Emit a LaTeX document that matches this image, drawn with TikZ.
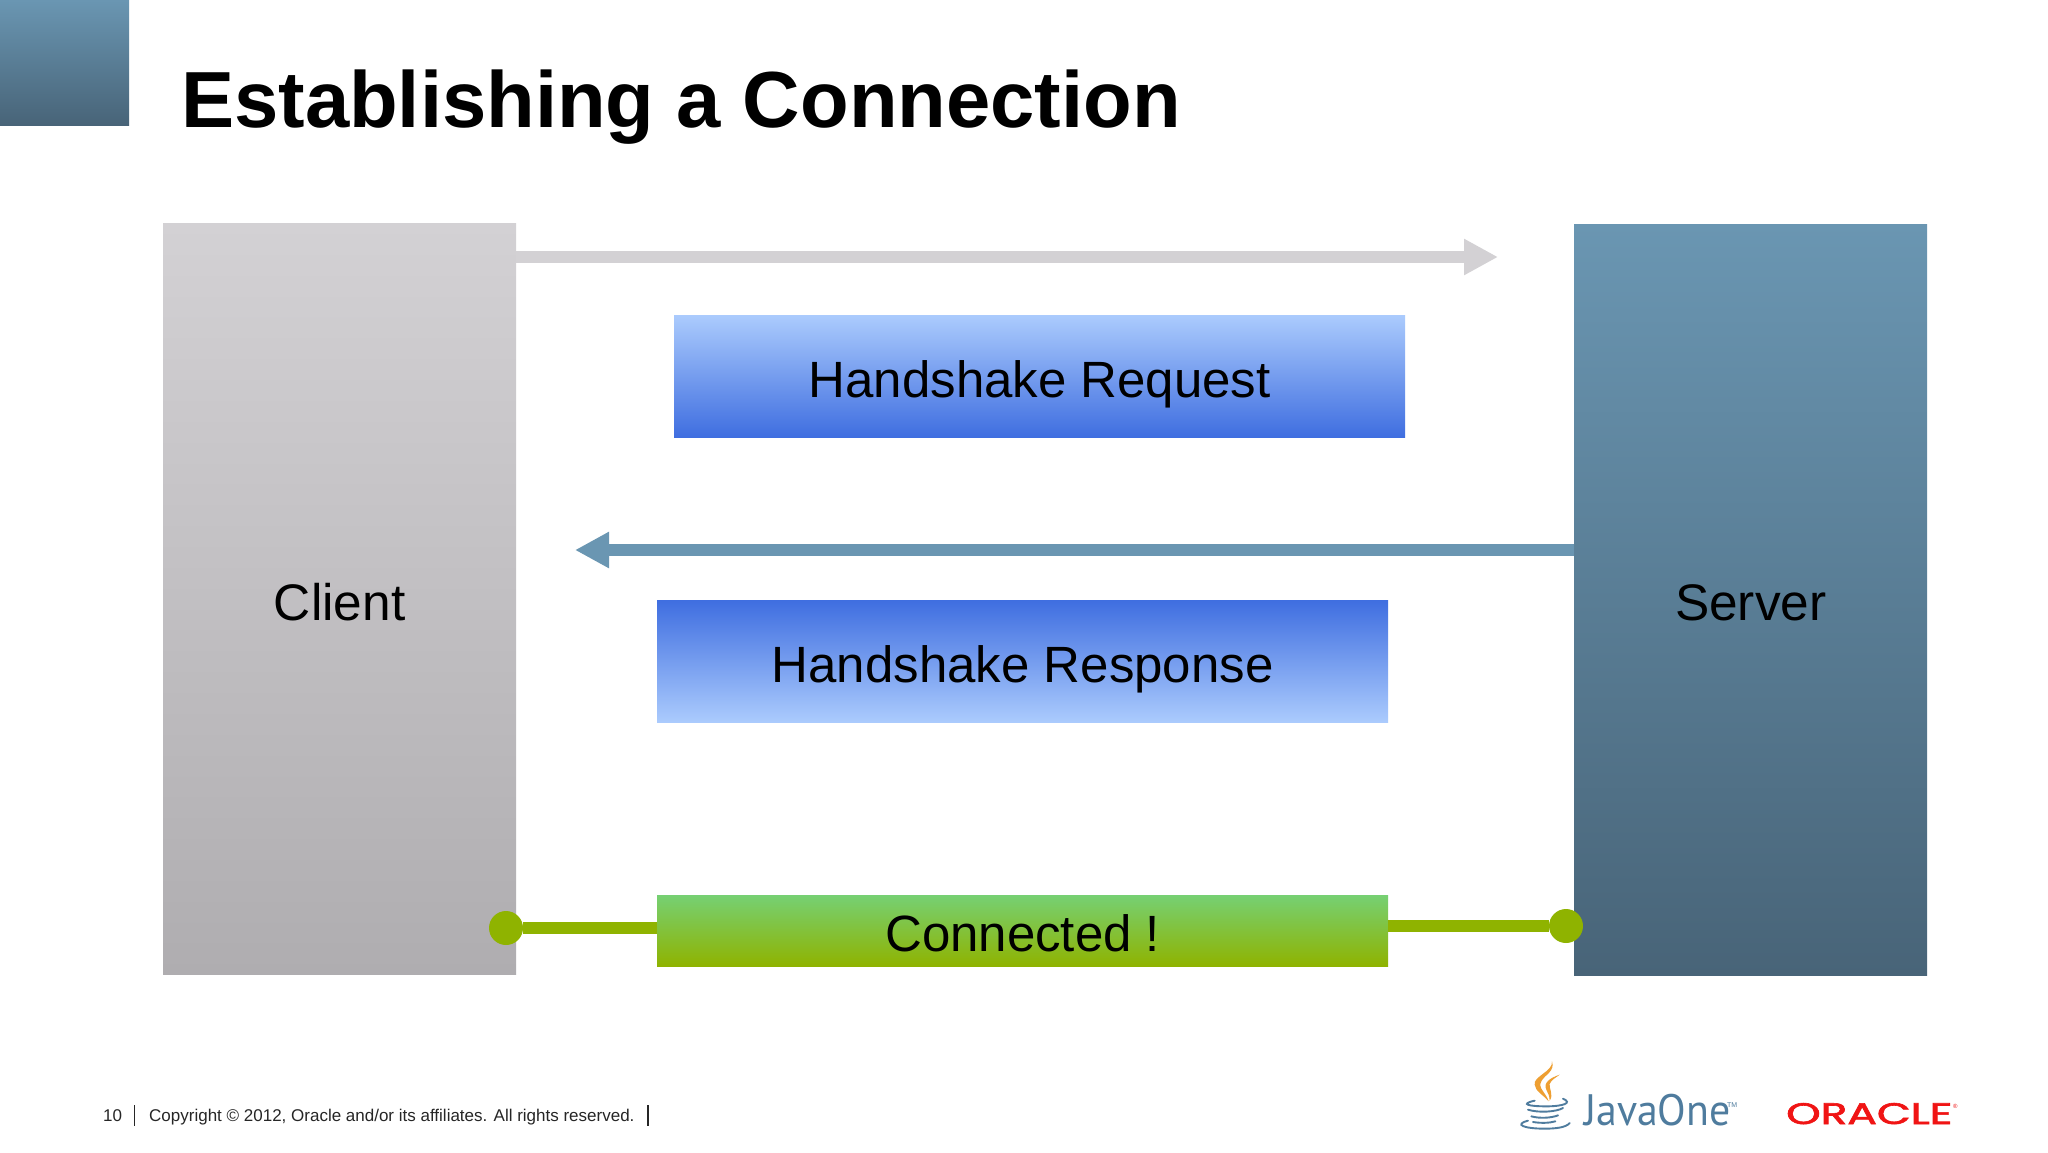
\documentclass[tikz,border=0pt]{standalone}
\usepackage{fontspec}
\usepackage{graphicx}
\setmainfont{Liberation Sans}
\newfontfamily\javaf{PT Sans}
\newfontfamily\oraf[FakeBold=2]{Poppins}
\usetikzlibrary{arrows.meta}
\definecolor{arrgrey}{HTML}{D3D1D4}
\definecolor{arrblue}{HTML}{6A96B2}
\definecolor{dotgreen}{HTML}{8FB300}
\definecolor{conngreen}{HTML}{76D073}
\definecolor{javablue}{HTML}{4F7C9E}
\definecolor{javaorange}{HTML}{EE9F32}
\definecolor{orared}{HTML}{F01414}
\definecolor{lightblue}{HTML}{ABCBFD}
\definecolor{deepblue}{HTML}{3F6EE0}
\definecolor{clientbot}{HTML}{AFADB0}
\definecolor{serverbot}{HTML}{486478}
\newcommand{\lowered}[2]{\raisebox{-#1pt}[0pt][0pt]{#2}}
\tikzset{
  x=1pt,y=-1pt,
  panel/.style={inner sep=0pt,minimum width=353pt,font=\fontsize{51.4}{52}\selectfont,text=black},
  msgbox/.style={inner sep=0pt,font=\fontsize{51}{52}\selectfont,text=black},
  bluegrad/.style={msgbox,minimum width=731pt,minimum height=122pt},
  dotnode/.style={circle,inner sep=0pt,minimum size=34pt,fill=dotgreen},
  fatarrow/.style={line width=12pt,-{Triangle[length=34pt,width=34pt]}},
  greenline/.style={line width=11.5pt,draw=dotgreen},
  footer/.style={inner sep=0pt,anchor=base west,font=\fontsize{17}{17}\selectfont,text=black!85},
  footbar/.style={line width=1.6pt,draw=black!85},
  cupline/.style={draw=javablue,line width=1.9pt,line cap=round},
  flame/.style={fill=javaorange,draw=none}
}
\begin{document}
\begin{tikzpicture}
\useasboundingbox[fill=white] (0,0) rectangle (2048,1152);
% corner tab
\path[top color=arrblue,bottom color=serverbot] (0,0) rectangle (129,125);
% title
\node[inner sep=0pt,anchor=base west,font=\bfseries\fontsize{79.6}{80}\selectfont] (title) at (181,127) {Establishing a Connection};
% panels
\node[panel,minimum height=751pt,anchor=north west,top color=arrgrey,bottom color=clientbot] (client) at (163,223) {\lowered{21.5}{Client}};
\node[panel,minimum height=751pt,anchor=north west,top color=arrblue,bottom color=serverbot] (server) at (1574,224) {\lowered{21}{Server}};
% message boxes
\node[bluegrad,anchor=north west,top color=lightblue,bottom color=deepblue] (req) at (674,315) {\lowered{21}{Handshake Request}};
\node[bluegrad,anchor=north west,bottom color=lightblue,top color=deepblue] (resp) at (657,600) {\lowered{21}{Handshake Response}};
\node[msgbox,minimum width=731pt,minimum height=71pt,anchor=north west,top color=conngreen,bottom color=dotgreen] (conn) at (657,895) {\lowered{21}{Connected !}};
% arrows
\coordinate (reqend) at (1498,257);
\coordinate (respend) at (575,550);
\draw[fatarrow,draw=arrgrey,fill=arrgrey] (client.east |- reqend) -- (reqend);
\draw[fatarrow,draw=arrblue,fill=arrblue] (server.west |- respend) -- (respend);
% connected
\node[dotnode] (dotl) at (506,928) {};
\node[dotnode] (dotr) at (1566,926) {};
\draw[greenline] (dotl) -- (conn.west |- dotl);
\draw[greenline] (conn.east |- dotr) -- (dotr);
% footer
\node[footer] (pg) at (103,1121) {10};
\draw[footbar] (134.5,1105) -- (134.5,1126);
\node[footer] (copy) at (149,1121) {Copyright © 2012, Oracle and/or its affiliates. All rights reserved.};
\draw[footbar] (648,1105) -- (648,1126);
% JavaOne logo
\begin{scope}[shift={(1478,1038)},x=0.3333pt,y=-0.3333pt]
  \path[flame] (222,70) .. controls (226,100) and (165,115) .. (170,140) .. controls (172,160) and (195,170) .. (212,190) .. controls (205,165) and (178,150) .. (190,130) .. controls (200,110) and (232,100) .. (222,70) -- cycle;
  \path[flame] (245,110) .. controls (215,120) and (195,135) .. (205,155) .. controls (210,165) and (215,175) .. (215,188) .. controls (228,170) and (212,150) .. (215,138) .. controls (220,125) and (235,118) .. (245,110) -- cycle;
  \draw[cupline] (170,188) .. controls (125,198) and (150,205) .. (205,205) .. controls (255,205) and (285,195) .. (255,182);
  \draw[cupline] (150,215) .. controls (180,225) and (235,222) .. (255,210);
  \draw[cupline] (160,235) .. controls (185,242) and (220,240) .. (240,232);
  \draw[cupline] (165,252) .. controls (190,256) and (215,255) .. (232,250);
  \draw[cupline] (150,248) .. controls (105,260) and (140,272) .. (200,272) .. controls (235,272) and (265,268) .. (275,255);
\end{scope}
\node[inner sep=0pt,anchor=base west,text=javablue,font=\javaf\fontsize{44}{44}\selectfont] (java) at (1584,1125) {\scalebox{0.95}[1]{JavaOne}};
\node[inner sep=0pt,anchor=base west,text=javablue,font=\fontsize{7}{7}\selectfont] (tm) at (1727,1107) {TM};
% Oracle logo
\node[inner sep=0pt,anchor=base west,text=orared,font=\oraf] (oracle) at (1786,1124) {\resizebox{166pt}{21pt}{ORACLE}};
\node[inner sep=0pt,anchor=base west,text=orared,font=\fontsize{6}{6}\selectfont] (reg) at (1953,1108) {®};
\end{tikzpicture}
\end{document}
